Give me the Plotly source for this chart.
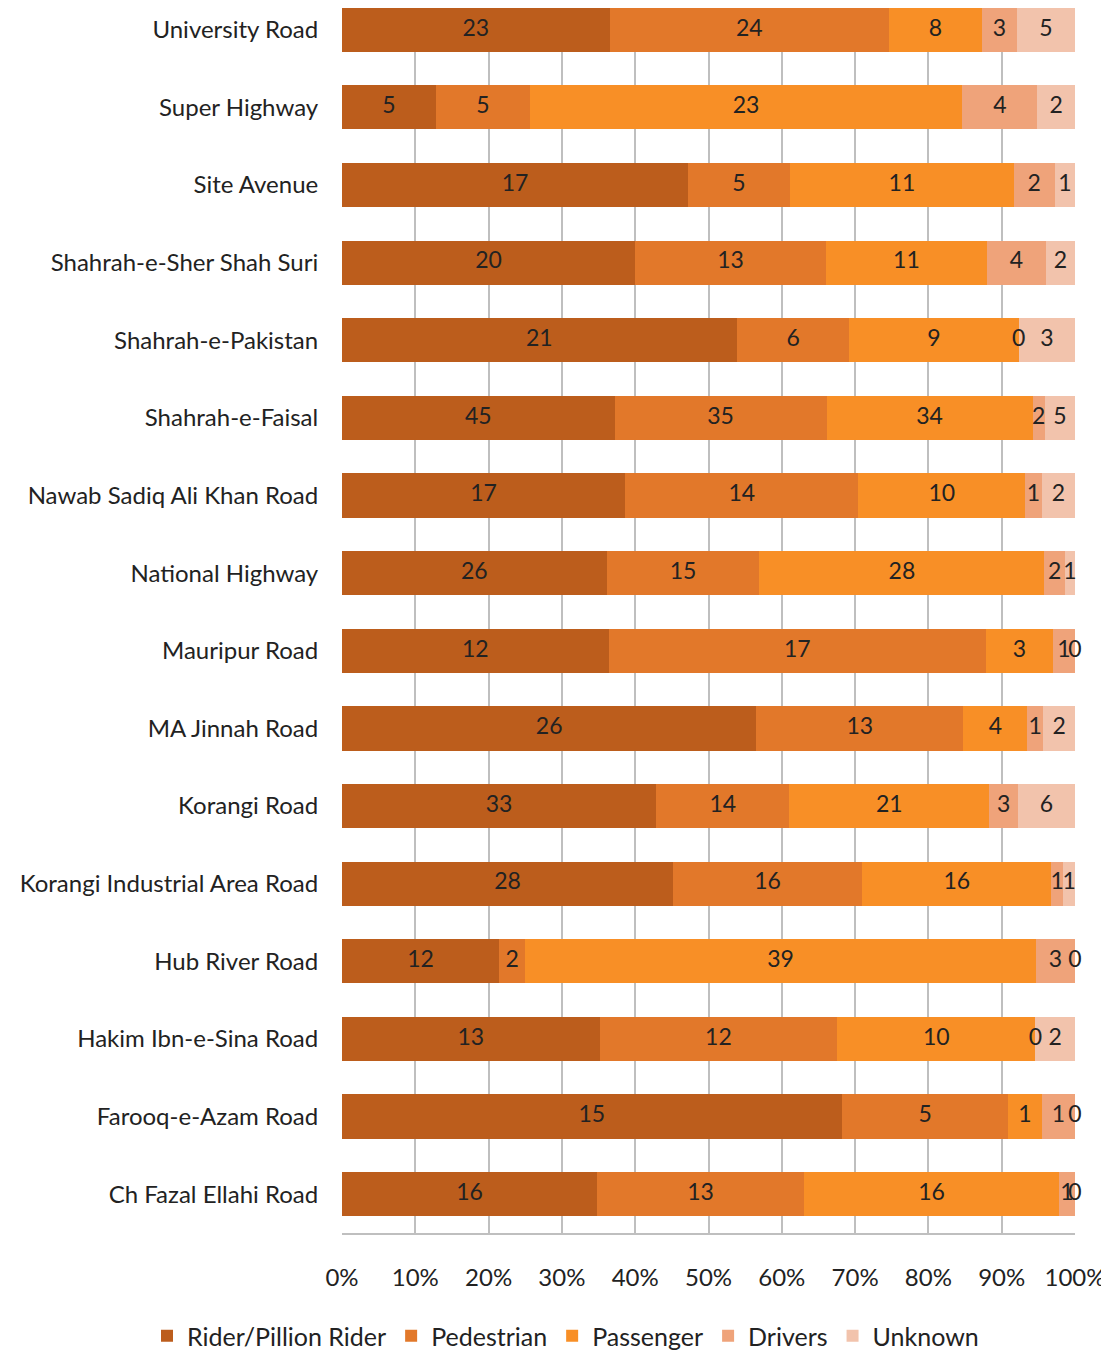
import plotly.graph_objects as go

roads = [
    "University Road",
    "Super Highway",
    "Site Avenue",
    "Shahrah-e-Sher Shah Suri",
    "Shahrah-e-Pakistan",
    "Shahrah-e-Faisal",
    "Nawab Sadiq Ali Khan Road",
    "National Highway",
    "Mauripur Road",
    "MA Jinnah Road",
    "Korangi Road",
    "Korangi Industrial Area Road",
    "Hub River Road",
    "Hakim Ibn-e-Sina Road",
    "Farooq-e-Azam Road",
    "Ch Fazal Ellahi Road",
]

rider = [23, 5, 17, 20, 21, 45, 17, 26, 12, 26, 33, 28, 12, 13, 15, 16]
pedestrian = [24, 5, 5, 13, 6, 35, 14, 15, 17, 13, 14, 16, 2, 12, 5, 13]
passenger = [8, 23, 11, 11, 9, 34, 10, 28, 3, 4, 21, 16, 39, 10, 1, 16]
drivers = [3, 4, 2, 4, 0, 2, 1, 2, 1, 1, 3, 1, 3, 0, 1, 1]
unknown = [5, 2, 1, 2, 3, 5, 2, 1, 0, 2, 6, 1, 0, 2, 0, 0]

series = [
    ("Rider/Pillion Rider", rider, "#BC5D1C"),
    ("Pedestrian", pedestrian, "#E2782A"),
    ("Passenger", passenger, "#F88F26"),
    ("Drivers", drivers, "#EFA37A"),
    ("Unknown", unknown, "#F2C3AC"),
]

FONT = "Lato"
TXT = "#222222"

totals = [sum(s[1][i] for s in series) for i in range(len(roads))]

fig = go.Figure()
for name, vals, color in series:
    fig.add_trace(
        go.Bar(
            name=name,
            y=roads,
            x=vals,
            orientation="h",
            marker=dict(color=color, line=dict(width=0)),
        )
    )

# value labels: centred in each segment (zeros sit on the segment boundary)
running = [0] * len(roads)
for name, vals, color in series:
    mids = []
    for i, v in enumerate(vals):
        mids.append((running[i] + v / 2) * 100 / totals[i])
        running[i] += v
    fig.add_trace(
        go.Scatter(
            x=mids,
            y=roads,
            mode="text",
            text=[str(v) for v in vals],
            textposition="middle center",
            textfont=dict(family=FONT, size=23, color=TXT),
            showlegend=False,
            hoverinfo="skip",
            cliponaxis=False,
        )
    )

fig.update_layout(
    barmode="stack",
    barnorm="percent",
    bargap=0.43,
    width=1101,
    height=1351,
    margin=dict(l=334, r=34, t=0, b=125),
    paper_bgcolor="white",
    plot_bgcolor="white",
    font=dict(family=FONT, size=24, color=TXT),
    showlegend=True,
    legend=dict(
        orientation="h",
        x=-0.266,
        xanchor="left",
        y=-0.084,
        yanchor="middle",
        font=dict(family=FONT, size=25, color=TXT),
        traceorder="normal",
        itemwidth=30,
    ),
)

fig.update_xaxes(
    range=[0, 100],
    dtick=10,
    ticksuffix="%",
    showgrid=True,
    gridcolor="#BFBFBF",
    gridwidth=2,
    zeroline=False,
    showline=True,
    linecolor="#BFBFBF",
    linewidth=2,
    ticks="outside",
    ticklen=22,
    tickcolor="rgba(0,0,0,0)",
    tickfont=dict(family=FONT, size=24, color=TXT),
)

fig.update_yaxes(
    categoryorder="array",
    categoryarray=roads,
    range=[15.5, -0.28],
    showgrid=False,
    showline=False,
    ticks="outside",
    ticklen=18,
    tickcolor="rgba(0,0,0,0)",
    tickfont=dict(family=FONT, size=24, color=TXT),
)

fig.write_html("out.html")
